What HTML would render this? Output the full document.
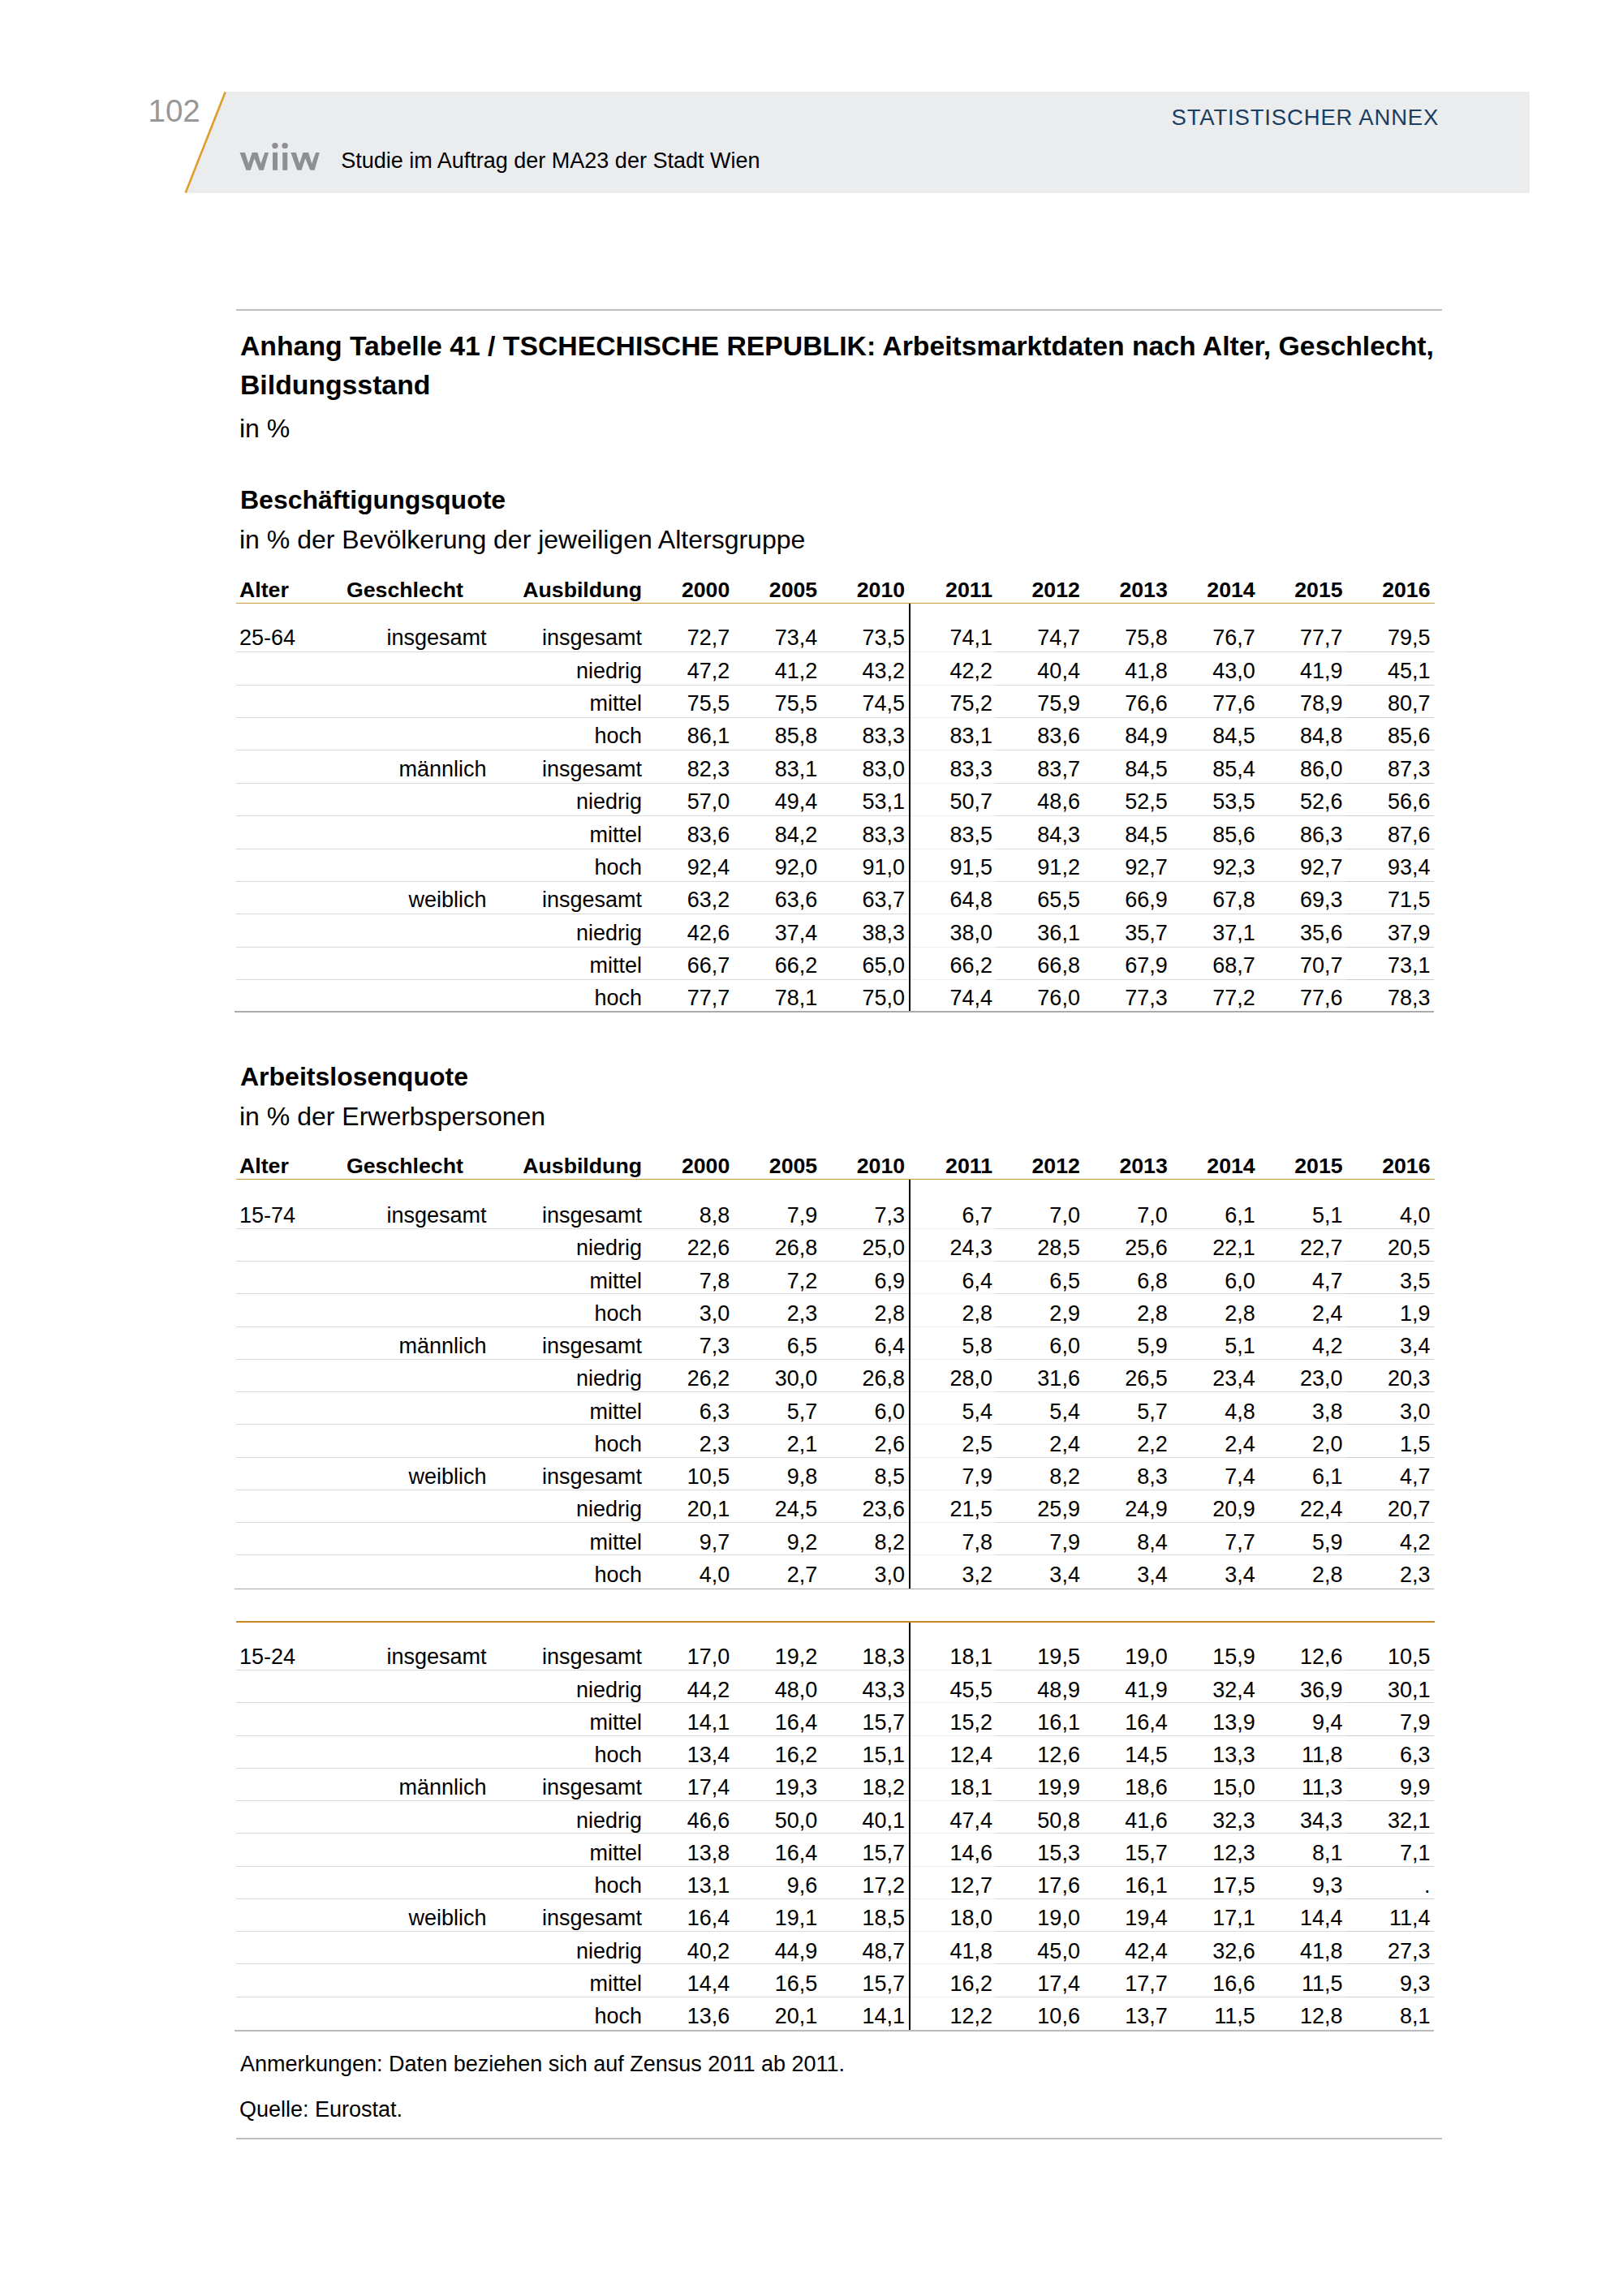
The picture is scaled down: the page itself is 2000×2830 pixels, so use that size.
<!DOCTYPE html>
<html><head><meta charset="utf-8"><title>Anhang Tabelle 41</title>
<style>
html,body{margin:0;padding:0;background:#fff;}
body{width:2000px;height:2830px;position:relative;overflow:hidden;font-family:"Liberation Sans",sans-serif;}
.t{position:absolute;white-space:nowrap;line-height:1;}
.r{position:absolute;}
.s{position:absolute;}
</style></head><body>
<div class="r" style="left:399.00px;top:113.00px;width:1486.00px;height:125.00px;background:#ebecee;"></div>
<svg class="s" style="left:0;top:0" width="400" height="300" viewBox="0 0 400 300">
<polygon points="278.5,113 400,113 400,238 229.5,238" fill="#ebecee"/>
<line x1="277.6" y1="113.5" x2="228.7" y2="237.5" stroke="#df9d2a" stroke-width="2.6"/>
<g fill="#8e8f91">
<polygon points="295.5,187.9 302,187.9 306.2,201.7 310.7,187.9 317.3,187.9 321.4,201.7 326.3,187.9 331,187.9 324.8,209.8 319.4,209.8 313.4,195.2 308.8,209.8 303.4,209.8"/>
<polygon transform="translate(62.8,0)" points="295.5,187.9 302,187.9 306.2,201.7 310.7,187.9 317.3,187.9 321.4,201.7 326.3,187.9 331,187.9 324.8,209.8 319.4,209.8 313.4,195.2 308.8,209.8 303.4,209.8"/>
<rect x="336" y="187.9" width="6" height="21.9"/>
<rect x="348.2" y="187.9" width="6" height="21.9"/>
<circle cx="338.9" cy="179.6" r="3.7"/>
<circle cx="351.1" cy="179.6" r="3.7"/>
</g>
</svg>
<div class="t" style="left:182.50px;top:117.61px;font-size:38.5px;font-weight:normal;color:#979797;">102</div>
<div class="t" style="left:1443.50px;top:130.62px;font-size:27.5px;font-weight:normal;color:#1a3d60;letter-spacing:0.84px;">STATISTISCHER ANNEX</div>
<div class="t" style="left:420.20px;top:184.64px;font-size:27px;font-weight:normal;color:#000;">Studie im Auftrag der MA23 der Stadt Wien</div>
<div class="r" style="left:290.50px;top:381.00px;width:1486.50px;height:2.00px;background:#bdbdbd;"></div>
<div class="t" style="left:296.00px;top:409.93px;font-size:33.75px;font-weight:bold;color:#000;">Anhang Tabelle 41 / TSCHECHISCHE REPUBLIK: Arbeitsmarktdaten nach Alter, Geschlecht,</div>
<div class="t" style="left:296.00px;top:458.23px;font-size:33.75px;font-weight:bold;color:#000;">Bildungsstand</div>
<div class="t" style="left:295.00px;top:512.01px;font-size:32px;font-weight:normal;color:#000;">in %</div>
<div class="t" style="left:296.00px;top:600.21px;font-size:32px;font-weight:bold;color:#000;">Beschäftigungsquote</div>
<div class="t" style="left:295.00px;top:649.11px;font-size:32px;font-weight:normal;color:#000;">in % der Bevölkerung der jeweiligen Altersgruppe</div>
<div class="t" style="left:295.00px;top:714.10px;font-size:26.7px;font-weight:bold;color:#000;">Alter</div>
<div class="t" style="left:427.00px;top:714.10px;font-size:26.7px;font-weight:bold;color:#000;">Geschlecht</div>
<div class="t" style="right:1209.00px;top:714.10px;font-size:26.7px;font-weight:bold;color:#000;text-align:right;">Ausbildung</div>
<div class="t" style="right:1100.70px;top:714.10px;font-size:26.7px;font-weight:bold;color:#000;text-align:right;">2000</div>
<div class="t" style="right:992.80px;top:714.10px;font-size:26.7px;font-weight:bold;color:#000;text-align:right;">2005</div>
<div class="t" style="right:884.90px;top:714.10px;font-size:26.7px;font-weight:bold;color:#000;text-align:right;">2010</div>
<div class="t" style="right:777.00px;top:714.10px;font-size:26.7px;font-weight:bold;color:#000;text-align:right;">2011</div>
<div class="t" style="right:669.10px;top:714.10px;font-size:26.7px;font-weight:bold;color:#000;text-align:right;">2012</div>
<div class="t" style="right:561.20px;top:714.10px;font-size:26.7px;font-weight:bold;color:#000;text-align:right;">2013</div>
<div class="t" style="right:453.30px;top:714.10px;font-size:26.7px;font-weight:bold;color:#000;text-align:right;">2014</div>
<div class="t" style="right:345.40px;top:714.10px;font-size:26.7px;font-weight:bold;color:#000;text-align:right;">2015</div>
<div class="t" style="right:237.50px;top:714.10px;font-size:26.7px;font-weight:bold;color:#000;text-align:right;">2016</div>
<div class="r" style="left:290.50px;top:743.00px;width:1477.00px;height:1.00px;background:#cf9a3e;"></div>
<div class="t" style="left:295.00px;top:773.24px;font-size:27px;font-weight:normal;color:#000;">25-64</div>
<div class="t" style="right:1400.50px;top:773.24px;font-size:27px;font-weight:normal;color:#000;text-align:right;">insgesamt</div>
<div class="t" style="right:1209.00px;top:773.24px;font-size:27px;font-weight:normal;color:#000;text-align:right;">insgesamt</div>
<div class="t" style="right:1100.70px;top:773.24px;font-size:27px;font-weight:normal;color:#000;text-align:right;">72,7</div>
<div class="t" style="right:992.80px;top:773.24px;font-size:27px;font-weight:normal;color:#000;text-align:right;">73,4</div>
<div class="t" style="right:884.90px;top:773.24px;font-size:27px;font-weight:normal;color:#000;text-align:right;">73,5</div>
<div class="t" style="right:777.00px;top:773.24px;font-size:27px;font-weight:normal;color:#000;text-align:right;">74,1</div>
<div class="t" style="right:669.10px;top:773.24px;font-size:27px;font-weight:normal;color:#000;text-align:right;">74,7</div>
<div class="t" style="right:561.20px;top:773.24px;font-size:27px;font-weight:normal;color:#000;text-align:right;">75,8</div>
<div class="t" style="right:453.30px;top:773.24px;font-size:27px;font-weight:normal;color:#000;text-align:right;">76,7</div>
<div class="t" style="right:345.40px;top:773.24px;font-size:27px;font-weight:normal;color:#000;text-align:right;">77,7</div>
<div class="t" style="right:237.50px;top:773.24px;font-size:27px;font-weight:normal;color:#000;text-align:right;">79,5</div>
<div class="r" style="left:291.00px;top:803.30px;width:828.00px;height:1.00px;background:#d8d8d8;"></div>
<div class="r" style="left:1121.60px;top:803.30px;width:105.40px;height:1.00px;background:#efefef;"></div>
<div class="r" style="left:1227.00px;top:803.30px;width:433.00px;height:1.00px;background:#d8d8d8;"></div>
<div class="r" style="left:1660.00px;top:803.30px;width:107.00px;height:1.00px;background:#cdcdcd;"></div>
<div class="t" style="right:1209.00px;top:813.62px;font-size:27px;font-weight:normal;color:#000;text-align:right;">niedrig</div>
<div class="t" style="right:1100.70px;top:813.62px;font-size:27px;font-weight:normal;color:#000;text-align:right;">47,2</div>
<div class="t" style="right:992.80px;top:813.62px;font-size:27px;font-weight:normal;color:#000;text-align:right;">41,2</div>
<div class="t" style="right:884.90px;top:813.62px;font-size:27px;font-weight:normal;color:#000;text-align:right;">43,2</div>
<div class="t" style="right:777.00px;top:813.62px;font-size:27px;font-weight:normal;color:#000;text-align:right;">42,2</div>
<div class="t" style="right:669.10px;top:813.62px;font-size:27px;font-weight:normal;color:#000;text-align:right;">40,4</div>
<div class="t" style="right:561.20px;top:813.62px;font-size:27px;font-weight:normal;color:#000;text-align:right;">41,8</div>
<div class="t" style="right:453.30px;top:813.62px;font-size:27px;font-weight:normal;color:#000;text-align:right;">43,0</div>
<div class="t" style="right:345.40px;top:813.62px;font-size:27px;font-weight:normal;color:#000;text-align:right;">41,9</div>
<div class="t" style="right:237.50px;top:813.62px;font-size:27px;font-weight:normal;color:#000;text-align:right;">45,1</div>
<div class="r" style="left:291.00px;top:843.68px;width:828.00px;height:1.00px;background:#d8d8d8;"></div>
<div class="r" style="left:1121.60px;top:843.68px;width:105.40px;height:1.00px;background:#efefef;"></div>
<div class="r" style="left:1227.00px;top:843.68px;width:433.00px;height:1.00px;background:#d8d8d8;"></div>
<div class="r" style="left:1660.00px;top:843.68px;width:107.00px;height:1.00px;background:#cdcdcd;"></div>
<div class="t" style="right:1209.00px;top:854.00px;font-size:27px;font-weight:normal;color:#000;text-align:right;">mittel</div>
<div class="t" style="right:1100.70px;top:854.00px;font-size:27px;font-weight:normal;color:#000;text-align:right;">75,5</div>
<div class="t" style="right:992.80px;top:854.00px;font-size:27px;font-weight:normal;color:#000;text-align:right;">75,5</div>
<div class="t" style="right:884.90px;top:854.00px;font-size:27px;font-weight:normal;color:#000;text-align:right;">74,5</div>
<div class="t" style="right:777.00px;top:854.00px;font-size:27px;font-weight:normal;color:#000;text-align:right;">75,2</div>
<div class="t" style="right:669.10px;top:854.00px;font-size:27px;font-weight:normal;color:#000;text-align:right;">75,9</div>
<div class="t" style="right:561.20px;top:854.00px;font-size:27px;font-weight:normal;color:#000;text-align:right;">76,6</div>
<div class="t" style="right:453.30px;top:854.00px;font-size:27px;font-weight:normal;color:#000;text-align:right;">77,6</div>
<div class="t" style="right:345.40px;top:854.00px;font-size:27px;font-weight:normal;color:#000;text-align:right;">78,9</div>
<div class="t" style="right:237.50px;top:854.00px;font-size:27px;font-weight:normal;color:#000;text-align:right;">80,7</div>
<div class="r" style="left:291.00px;top:884.06px;width:828.00px;height:1.00px;background:#d8d8d8;"></div>
<div class="r" style="left:1121.60px;top:884.06px;width:105.40px;height:1.00px;background:#efefef;"></div>
<div class="r" style="left:1227.00px;top:884.06px;width:433.00px;height:1.00px;background:#d8d8d8;"></div>
<div class="r" style="left:1660.00px;top:884.06px;width:107.00px;height:1.00px;background:#cdcdcd;"></div>
<div class="t" style="right:1209.00px;top:894.38px;font-size:27px;font-weight:normal;color:#000;text-align:right;">hoch</div>
<div class="t" style="right:1100.70px;top:894.38px;font-size:27px;font-weight:normal;color:#000;text-align:right;">86,1</div>
<div class="t" style="right:992.80px;top:894.38px;font-size:27px;font-weight:normal;color:#000;text-align:right;">85,8</div>
<div class="t" style="right:884.90px;top:894.38px;font-size:27px;font-weight:normal;color:#000;text-align:right;">83,3</div>
<div class="t" style="right:777.00px;top:894.38px;font-size:27px;font-weight:normal;color:#000;text-align:right;">83,1</div>
<div class="t" style="right:669.10px;top:894.38px;font-size:27px;font-weight:normal;color:#000;text-align:right;">83,6</div>
<div class="t" style="right:561.20px;top:894.38px;font-size:27px;font-weight:normal;color:#000;text-align:right;">84,9</div>
<div class="t" style="right:453.30px;top:894.38px;font-size:27px;font-weight:normal;color:#000;text-align:right;">84,5</div>
<div class="t" style="right:345.40px;top:894.38px;font-size:27px;font-weight:normal;color:#000;text-align:right;">84,8</div>
<div class="t" style="right:237.50px;top:894.38px;font-size:27px;font-weight:normal;color:#000;text-align:right;">85,6</div>
<div class="r" style="left:291.00px;top:924.44px;width:828.00px;height:1.00px;background:#d8d8d8;"></div>
<div class="r" style="left:1121.60px;top:924.44px;width:105.40px;height:1.00px;background:#efefef;"></div>
<div class="r" style="left:1227.00px;top:924.44px;width:433.00px;height:1.00px;background:#d8d8d8;"></div>
<div class="r" style="left:1660.00px;top:924.44px;width:107.00px;height:1.00px;background:#cdcdcd;"></div>
<div class="t" style="right:1400.50px;top:934.76px;font-size:27px;font-weight:normal;color:#000;text-align:right;">männlich</div>
<div class="t" style="right:1209.00px;top:934.76px;font-size:27px;font-weight:normal;color:#000;text-align:right;">insgesamt</div>
<div class="t" style="right:1100.70px;top:934.76px;font-size:27px;font-weight:normal;color:#000;text-align:right;">82,3</div>
<div class="t" style="right:992.80px;top:934.76px;font-size:27px;font-weight:normal;color:#000;text-align:right;">83,1</div>
<div class="t" style="right:884.90px;top:934.76px;font-size:27px;font-weight:normal;color:#000;text-align:right;">83,0</div>
<div class="t" style="right:777.00px;top:934.76px;font-size:27px;font-weight:normal;color:#000;text-align:right;">83,3</div>
<div class="t" style="right:669.10px;top:934.76px;font-size:27px;font-weight:normal;color:#000;text-align:right;">83,7</div>
<div class="t" style="right:561.20px;top:934.76px;font-size:27px;font-weight:normal;color:#000;text-align:right;">84,5</div>
<div class="t" style="right:453.30px;top:934.76px;font-size:27px;font-weight:normal;color:#000;text-align:right;">85,4</div>
<div class="t" style="right:345.40px;top:934.76px;font-size:27px;font-weight:normal;color:#000;text-align:right;">86,0</div>
<div class="t" style="right:237.50px;top:934.76px;font-size:27px;font-weight:normal;color:#000;text-align:right;">87,3</div>
<div class="r" style="left:291.00px;top:964.82px;width:828.00px;height:1.00px;background:#d8d8d8;"></div>
<div class="r" style="left:1121.60px;top:964.82px;width:105.40px;height:1.00px;background:#efefef;"></div>
<div class="r" style="left:1227.00px;top:964.82px;width:433.00px;height:1.00px;background:#d8d8d8;"></div>
<div class="r" style="left:1660.00px;top:964.82px;width:107.00px;height:1.00px;background:#cdcdcd;"></div>
<div class="t" style="right:1209.00px;top:975.14px;font-size:27px;font-weight:normal;color:#000;text-align:right;">niedrig</div>
<div class="t" style="right:1100.70px;top:975.14px;font-size:27px;font-weight:normal;color:#000;text-align:right;">57,0</div>
<div class="t" style="right:992.80px;top:975.14px;font-size:27px;font-weight:normal;color:#000;text-align:right;">49,4</div>
<div class="t" style="right:884.90px;top:975.14px;font-size:27px;font-weight:normal;color:#000;text-align:right;">53,1</div>
<div class="t" style="right:777.00px;top:975.14px;font-size:27px;font-weight:normal;color:#000;text-align:right;">50,7</div>
<div class="t" style="right:669.10px;top:975.14px;font-size:27px;font-weight:normal;color:#000;text-align:right;">48,6</div>
<div class="t" style="right:561.20px;top:975.14px;font-size:27px;font-weight:normal;color:#000;text-align:right;">52,5</div>
<div class="t" style="right:453.30px;top:975.14px;font-size:27px;font-weight:normal;color:#000;text-align:right;">53,5</div>
<div class="t" style="right:345.40px;top:975.14px;font-size:27px;font-weight:normal;color:#000;text-align:right;">52,6</div>
<div class="t" style="right:237.50px;top:975.14px;font-size:27px;font-weight:normal;color:#000;text-align:right;">56,6</div>
<div class="r" style="left:291.00px;top:1005.20px;width:828.00px;height:1.00px;background:#d8d8d8;"></div>
<div class="r" style="left:1121.60px;top:1005.20px;width:105.40px;height:1.00px;background:#efefef;"></div>
<div class="r" style="left:1227.00px;top:1005.20px;width:433.00px;height:1.00px;background:#d8d8d8;"></div>
<div class="r" style="left:1660.00px;top:1005.20px;width:107.00px;height:1.00px;background:#cdcdcd;"></div>
<div class="t" style="right:1209.00px;top:1015.52px;font-size:27px;font-weight:normal;color:#000;text-align:right;">mittel</div>
<div class="t" style="right:1100.70px;top:1015.52px;font-size:27px;font-weight:normal;color:#000;text-align:right;">83,6</div>
<div class="t" style="right:992.80px;top:1015.52px;font-size:27px;font-weight:normal;color:#000;text-align:right;">84,2</div>
<div class="t" style="right:884.90px;top:1015.52px;font-size:27px;font-weight:normal;color:#000;text-align:right;">83,3</div>
<div class="t" style="right:777.00px;top:1015.52px;font-size:27px;font-weight:normal;color:#000;text-align:right;">83,5</div>
<div class="t" style="right:669.10px;top:1015.52px;font-size:27px;font-weight:normal;color:#000;text-align:right;">84,3</div>
<div class="t" style="right:561.20px;top:1015.52px;font-size:27px;font-weight:normal;color:#000;text-align:right;">84,5</div>
<div class="t" style="right:453.30px;top:1015.52px;font-size:27px;font-weight:normal;color:#000;text-align:right;">85,6</div>
<div class="t" style="right:345.40px;top:1015.52px;font-size:27px;font-weight:normal;color:#000;text-align:right;">86,3</div>
<div class="t" style="right:237.50px;top:1015.52px;font-size:27px;font-weight:normal;color:#000;text-align:right;">87,6</div>
<div class="r" style="left:291.00px;top:1045.58px;width:828.00px;height:1.00px;background:#d8d8d8;"></div>
<div class="r" style="left:1121.60px;top:1045.58px;width:105.40px;height:1.00px;background:#efefef;"></div>
<div class="r" style="left:1227.00px;top:1045.58px;width:433.00px;height:1.00px;background:#d8d8d8;"></div>
<div class="r" style="left:1660.00px;top:1045.58px;width:107.00px;height:1.00px;background:#cdcdcd;"></div>
<div class="t" style="right:1209.00px;top:1055.90px;font-size:27px;font-weight:normal;color:#000;text-align:right;">hoch</div>
<div class="t" style="right:1100.70px;top:1055.90px;font-size:27px;font-weight:normal;color:#000;text-align:right;">92,4</div>
<div class="t" style="right:992.80px;top:1055.90px;font-size:27px;font-weight:normal;color:#000;text-align:right;">92,0</div>
<div class="t" style="right:884.90px;top:1055.90px;font-size:27px;font-weight:normal;color:#000;text-align:right;">91,0</div>
<div class="t" style="right:777.00px;top:1055.90px;font-size:27px;font-weight:normal;color:#000;text-align:right;">91,5</div>
<div class="t" style="right:669.10px;top:1055.90px;font-size:27px;font-weight:normal;color:#000;text-align:right;">91,2</div>
<div class="t" style="right:561.20px;top:1055.90px;font-size:27px;font-weight:normal;color:#000;text-align:right;">92,7</div>
<div class="t" style="right:453.30px;top:1055.90px;font-size:27px;font-weight:normal;color:#000;text-align:right;">92,3</div>
<div class="t" style="right:345.40px;top:1055.90px;font-size:27px;font-weight:normal;color:#000;text-align:right;">92,7</div>
<div class="t" style="right:237.50px;top:1055.90px;font-size:27px;font-weight:normal;color:#000;text-align:right;">93,4</div>
<div class="r" style="left:291.00px;top:1085.96px;width:828.00px;height:1.00px;background:#d8d8d8;"></div>
<div class="r" style="left:1121.60px;top:1085.96px;width:105.40px;height:1.00px;background:#efefef;"></div>
<div class="r" style="left:1227.00px;top:1085.96px;width:433.00px;height:1.00px;background:#d8d8d8;"></div>
<div class="r" style="left:1660.00px;top:1085.96px;width:107.00px;height:1.00px;background:#cdcdcd;"></div>
<div class="t" style="right:1400.50px;top:1096.28px;font-size:27px;font-weight:normal;color:#000;text-align:right;">weiblich</div>
<div class="t" style="right:1209.00px;top:1096.28px;font-size:27px;font-weight:normal;color:#000;text-align:right;">insgesamt</div>
<div class="t" style="right:1100.70px;top:1096.28px;font-size:27px;font-weight:normal;color:#000;text-align:right;">63,2</div>
<div class="t" style="right:992.80px;top:1096.28px;font-size:27px;font-weight:normal;color:#000;text-align:right;">63,6</div>
<div class="t" style="right:884.90px;top:1096.28px;font-size:27px;font-weight:normal;color:#000;text-align:right;">63,7</div>
<div class="t" style="right:777.00px;top:1096.28px;font-size:27px;font-weight:normal;color:#000;text-align:right;">64,8</div>
<div class="t" style="right:669.10px;top:1096.28px;font-size:27px;font-weight:normal;color:#000;text-align:right;">65,5</div>
<div class="t" style="right:561.20px;top:1096.28px;font-size:27px;font-weight:normal;color:#000;text-align:right;">66,9</div>
<div class="t" style="right:453.30px;top:1096.28px;font-size:27px;font-weight:normal;color:#000;text-align:right;">67,8</div>
<div class="t" style="right:345.40px;top:1096.28px;font-size:27px;font-weight:normal;color:#000;text-align:right;">69,3</div>
<div class="t" style="right:237.50px;top:1096.28px;font-size:27px;font-weight:normal;color:#000;text-align:right;">71,5</div>
<div class="r" style="left:291.00px;top:1126.34px;width:828.00px;height:1.00px;background:#d8d8d8;"></div>
<div class="r" style="left:1121.60px;top:1126.34px;width:105.40px;height:1.00px;background:#efefef;"></div>
<div class="r" style="left:1227.00px;top:1126.34px;width:433.00px;height:1.00px;background:#d8d8d8;"></div>
<div class="r" style="left:1660.00px;top:1126.34px;width:107.00px;height:1.00px;background:#cdcdcd;"></div>
<div class="t" style="right:1209.00px;top:1136.66px;font-size:27px;font-weight:normal;color:#000;text-align:right;">niedrig</div>
<div class="t" style="right:1100.70px;top:1136.66px;font-size:27px;font-weight:normal;color:#000;text-align:right;">42,6</div>
<div class="t" style="right:992.80px;top:1136.66px;font-size:27px;font-weight:normal;color:#000;text-align:right;">37,4</div>
<div class="t" style="right:884.90px;top:1136.66px;font-size:27px;font-weight:normal;color:#000;text-align:right;">38,3</div>
<div class="t" style="right:777.00px;top:1136.66px;font-size:27px;font-weight:normal;color:#000;text-align:right;">38,0</div>
<div class="t" style="right:669.10px;top:1136.66px;font-size:27px;font-weight:normal;color:#000;text-align:right;">36,1</div>
<div class="t" style="right:561.20px;top:1136.66px;font-size:27px;font-weight:normal;color:#000;text-align:right;">35,7</div>
<div class="t" style="right:453.30px;top:1136.66px;font-size:27px;font-weight:normal;color:#000;text-align:right;">37,1</div>
<div class="t" style="right:345.40px;top:1136.66px;font-size:27px;font-weight:normal;color:#000;text-align:right;">35,6</div>
<div class="t" style="right:237.50px;top:1136.66px;font-size:27px;font-weight:normal;color:#000;text-align:right;">37,9</div>
<div class="r" style="left:291.00px;top:1166.72px;width:828.00px;height:1.00px;background:#d8d8d8;"></div>
<div class="r" style="left:1121.60px;top:1166.72px;width:105.40px;height:1.00px;background:#efefef;"></div>
<div class="r" style="left:1227.00px;top:1166.72px;width:433.00px;height:1.00px;background:#d8d8d8;"></div>
<div class="r" style="left:1660.00px;top:1166.72px;width:107.00px;height:1.00px;background:#cdcdcd;"></div>
<div class="t" style="right:1209.00px;top:1177.04px;font-size:27px;font-weight:normal;color:#000;text-align:right;">mittel</div>
<div class="t" style="right:1100.70px;top:1177.04px;font-size:27px;font-weight:normal;color:#000;text-align:right;">66,7</div>
<div class="t" style="right:992.80px;top:1177.04px;font-size:27px;font-weight:normal;color:#000;text-align:right;">66,2</div>
<div class="t" style="right:884.90px;top:1177.04px;font-size:27px;font-weight:normal;color:#000;text-align:right;">65,0</div>
<div class="t" style="right:777.00px;top:1177.04px;font-size:27px;font-weight:normal;color:#000;text-align:right;">66,2</div>
<div class="t" style="right:669.10px;top:1177.04px;font-size:27px;font-weight:normal;color:#000;text-align:right;">66,8</div>
<div class="t" style="right:561.20px;top:1177.04px;font-size:27px;font-weight:normal;color:#000;text-align:right;">67,9</div>
<div class="t" style="right:453.30px;top:1177.04px;font-size:27px;font-weight:normal;color:#000;text-align:right;">68,7</div>
<div class="t" style="right:345.40px;top:1177.04px;font-size:27px;font-weight:normal;color:#000;text-align:right;">70,7</div>
<div class="t" style="right:237.50px;top:1177.04px;font-size:27px;font-weight:normal;color:#000;text-align:right;">73,1</div>
<div class="r" style="left:291.00px;top:1207.10px;width:828.00px;height:1.00px;background:#d8d8d8;"></div>
<div class="r" style="left:1121.60px;top:1207.10px;width:105.40px;height:1.00px;background:#efefef;"></div>
<div class="r" style="left:1227.00px;top:1207.10px;width:433.00px;height:1.00px;background:#d8d8d8;"></div>
<div class="r" style="left:1660.00px;top:1207.10px;width:107.00px;height:1.00px;background:#cdcdcd;"></div>
<div class="t" style="right:1209.00px;top:1217.42px;font-size:27px;font-weight:normal;color:#000;text-align:right;">hoch</div>
<div class="t" style="right:1100.70px;top:1217.42px;font-size:27px;font-weight:normal;color:#000;text-align:right;">77,7</div>
<div class="t" style="right:992.80px;top:1217.42px;font-size:27px;font-weight:normal;color:#000;text-align:right;">78,1</div>
<div class="t" style="right:884.90px;top:1217.42px;font-size:27px;font-weight:normal;color:#000;text-align:right;">75,0</div>
<div class="t" style="right:777.00px;top:1217.42px;font-size:27px;font-weight:normal;color:#000;text-align:right;">74,4</div>
<div class="t" style="right:669.10px;top:1217.42px;font-size:27px;font-weight:normal;color:#000;text-align:right;">76,0</div>
<div class="t" style="right:561.20px;top:1217.42px;font-size:27px;font-weight:normal;color:#000;text-align:right;">77,3</div>
<div class="t" style="right:453.30px;top:1217.42px;font-size:27px;font-weight:normal;color:#000;text-align:right;">77,2</div>
<div class="t" style="right:345.40px;top:1217.42px;font-size:27px;font-weight:normal;color:#000;text-align:right;">77,6</div>
<div class="t" style="right:237.50px;top:1217.42px;font-size:27px;font-weight:normal;color:#000;text-align:right;">78,3</div>
<div class="r" style="left:289.00px;top:1246.20px;width:1478.00px;height:2.20px;background:#ababab;"></div>
<div class="r" style="left:1119.50px;top:744.00px;width:2.00px;height:502.20px;background:#000;"></div>
<div class="t" style="left:296.00px;top:1311.21px;font-size:32px;font-weight:bold;color:#000;">Arbeitslosenquote</div>
<div class="t" style="left:295.00px;top:1359.91px;font-size:32px;font-weight:normal;color:#000;">in % der Erwerbspersonen</div>
<div class="t" style="left:295.00px;top:1424.40px;font-size:26.7px;font-weight:bold;color:#000;">Alter</div>
<div class="t" style="left:427.00px;top:1424.40px;font-size:26.7px;font-weight:bold;color:#000;">Geschlecht</div>
<div class="t" style="right:1209.00px;top:1424.40px;font-size:26.7px;font-weight:bold;color:#000;text-align:right;">Ausbildung</div>
<div class="t" style="right:1100.70px;top:1424.40px;font-size:26.7px;font-weight:bold;color:#000;text-align:right;">2000</div>
<div class="t" style="right:992.80px;top:1424.40px;font-size:26.7px;font-weight:bold;color:#000;text-align:right;">2005</div>
<div class="t" style="right:884.90px;top:1424.40px;font-size:26.7px;font-weight:bold;color:#000;text-align:right;">2010</div>
<div class="t" style="right:777.00px;top:1424.40px;font-size:26.7px;font-weight:bold;color:#000;text-align:right;">2011</div>
<div class="t" style="right:669.10px;top:1424.40px;font-size:26.7px;font-weight:bold;color:#000;text-align:right;">2012</div>
<div class="t" style="right:561.20px;top:1424.40px;font-size:26.7px;font-weight:bold;color:#000;text-align:right;">2013</div>
<div class="t" style="right:453.30px;top:1424.40px;font-size:26.7px;font-weight:bold;color:#000;text-align:right;">2014</div>
<div class="t" style="right:345.40px;top:1424.40px;font-size:26.7px;font-weight:bold;color:#000;text-align:right;">2015</div>
<div class="t" style="right:237.50px;top:1424.40px;font-size:26.7px;font-weight:bold;color:#000;text-align:right;">2016</div>
<div class="r" style="left:290.50px;top:1453.00px;width:1477.00px;height:1.00px;background:#cf9a3e;"></div>
<div class="t" style="left:295.00px;top:1485.24px;font-size:27px;font-weight:normal;color:#000;">15-74</div>
<div class="t" style="right:1400.50px;top:1485.24px;font-size:27px;font-weight:normal;color:#000;text-align:right;">insgesamt</div>
<div class="t" style="right:1209.00px;top:1485.24px;font-size:27px;font-weight:normal;color:#000;text-align:right;">insgesamt</div>
<div class="t" style="right:1100.70px;top:1485.24px;font-size:27px;font-weight:normal;color:#000;text-align:right;">8,8</div>
<div class="t" style="right:992.80px;top:1485.24px;font-size:27px;font-weight:normal;color:#000;text-align:right;">7,9</div>
<div class="t" style="right:884.90px;top:1485.24px;font-size:27px;font-weight:normal;color:#000;text-align:right;">7,3</div>
<div class="t" style="right:777.00px;top:1485.24px;font-size:27px;font-weight:normal;color:#000;text-align:right;">6,7</div>
<div class="t" style="right:669.10px;top:1485.24px;font-size:27px;font-weight:normal;color:#000;text-align:right;">7,0</div>
<div class="t" style="right:561.20px;top:1485.24px;font-size:27px;font-weight:normal;color:#000;text-align:right;">7,0</div>
<div class="t" style="right:453.30px;top:1485.24px;font-size:27px;font-weight:normal;color:#000;text-align:right;">6,1</div>
<div class="t" style="right:345.40px;top:1485.24px;font-size:27px;font-weight:normal;color:#000;text-align:right;">5,1</div>
<div class="t" style="right:237.50px;top:1485.24px;font-size:27px;font-weight:normal;color:#000;text-align:right;">4,0</div>
<div class="r" style="left:291.00px;top:1513.90px;width:828.00px;height:1.00px;background:#d8d8d8;"></div>
<div class="r" style="left:1121.60px;top:1513.90px;width:105.40px;height:1.00px;background:#efefef;"></div>
<div class="r" style="left:1227.00px;top:1513.90px;width:433.00px;height:1.00px;background:#d8d8d8;"></div>
<div class="r" style="left:1660.00px;top:1513.90px;width:107.00px;height:1.00px;background:#cdcdcd;"></div>
<div class="t" style="right:1209.00px;top:1525.49px;font-size:27px;font-weight:normal;color:#000;text-align:right;">niedrig</div>
<div class="t" style="right:1100.70px;top:1525.49px;font-size:27px;font-weight:normal;color:#000;text-align:right;">22,6</div>
<div class="t" style="right:992.80px;top:1525.49px;font-size:27px;font-weight:normal;color:#000;text-align:right;">26,8</div>
<div class="t" style="right:884.90px;top:1525.49px;font-size:27px;font-weight:normal;color:#000;text-align:right;">25,0</div>
<div class="t" style="right:777.00px;top:1525.49px;font-size:27px;font-weight:normal;color:#000;text-align:right;">24,3</div>
<div class="t" style="right:669.10px;top:1525.49px;font-size:27px;font-weight:normal;color:#000;text-align:right;">28,5</div>
<div class="t" style="right:561.20px;top:1525.49px;font-size:27px;font-weight:normal;color:#000;text-align:right;">25,6</div>
<div class="t" style="right:453.30px;top:1525.49px;font-size:27px;font-weight:normal;color:#000;text-align:right;">22,1</div>
<div class="t" style="right:345.40px;top:1525.49px;font-size:27px;font-weight:normal;color:#000;text-align:right;">22,7</div>
<div class="t" style="right:237.50px;top:1525.49px;font-size:27px;font-weight:normal;color:#000;text-align:right;">20,5</div>
<div class="r" style="left:291.00px;top:1554.15px;width:828.00px;height:1.00px;background:#d8d8d8;"></div>
<div class="r" style="left:1121.60px;top:1554.15px;width:105.40px;height:1.00px;background:#efefef;"></div>
<div class="r" style="left:1227.00px;top:1554.15px;width:433.00px;height:1.00px;background:#d8d8d8;"></div>
<div class="r" style="left:1660.00px;top:1554.15px;width:107.00px;height:1.00px;background:#cdcdcd;"></div>
<div class="t" style="right:1209.00px;top:1565.74px;font-size:27px;font-weight:normal;color:#000;text-align:right;">mittel</div>
<div class="t" style="right:1100.70px;top:1565.74px;font-size:27px;font-weight:normal;color:#000;text-align:right;">7,8</div>
<div class="t" style="right:992.80px;top:1565.74px;font-size:27px;font-weight:normal;color:#000;text-align:right;">7,2</div>
<div class="t" style="right:884.90px;top:1565.74px;font-size:27px;font-weight:normal;color:#000;text-align:right;">6,9</div>
<div class="t" style="right:777.00px;top:1565.74px;font-size:27px;font-weight:normal;color:#000;text-align:right;">6,4</div>
<div class="t" style="right:669.10px;top:1565.74px;font-size:27px;font-weight:normal;color:#000;text-align:right;">6,5</div>
<div class="t" style="right:561.20px;top:1565.74px;font-size:27px;font-weight:normal;color:#000;text-align:right;">6,8</div>
<div class="t" style="right:453.30px;top:1565.74px;font-size:27px;font-weight:normal;color:#000;text-align:right;">6,0</div>
<div class="t" style="right:345.40px;top:1565.74px;font-size:27px;font-weight:normal;color:#000;text-align:right;">4,7</div>
<div class="t" style="right:237.50px;top:1565.74px;font-size:27px;font-weight:normal;color:#000;text-align:right;">3,5</div>
<div class="r" style="left:291.00px;top:1594.40px;width:828.00px;height:1.00px;background:#d8d8d8;"></div>
<div class="r" style="left:1121.60px;top:1594.40px;width:105.40px;height:1.00px;background:#efefef;"></div>
<div class="r" style="left:1227.00px;top:1594.40px;width:433.00px;height:1.00px;background:#d8d8d8;"></div>
<div class="r" style="left:1660.00px;top:1594.40px;width:107.00px;height:1.00px;background:#cdcdcd;"></div>
<div class="t" style="right:1209.00px;top:1605.99px;font-size:27px;font-weight:normal;color:#000;text-align:right;">hoch</div>
<div class="t" style="right:1100.70px;top:1605.99px;font-size:27px;font-weight:normal;color:#000;text-align:right;">3,0</div>
<div class="t" style="right:992.80px;top:1605.99px;font-size:27px;font-weight:normal;color:#000;text-align:right;">2,3</div>
<div class="t" style="right:884.90px;top:1605.99px;font-size:27px;font-weight:normal;color:#000;text-align:right;">2,8</div>
<div class="t" style="right:777.00px;top:1605.99px;font-size:27px;font-weight:normal;color:#000;text-align:right;">2,8</div>
<div class="t" style="right:669.10px;top:1605.99px;font-size:27px;font-weight:normal;color:#000;text-align:right;">2,9</div>
<div class="t" style="right:561.20px;top:1605.99px;font-size:27px;font-weight:normal;color:#000;text-align:right;">2,8</div>
<div class="t" style="right:453.30px;top:1605.99px;font-size:27px;font-weight:normal;color:#000;text-align:right;">2,8</div>
<div class="t" style="right:345.40px;top:1605.99px;font-size:27px;font-weight:normal;color:#000;text-align:right;">2,4</div>
<div class="t" style="right:237.50px;top:1605.99px;font-size:27px;font-weight:normal;color:#000;text-align:right;">1,9</div>
<div class="r" style="left:291.00px;top:1634.65px;width:828.00px;height:1.00px;background:#d8d8d8;"></div>
<div class="r" style="left:1121.60px;top:1634.65px;width:105.40px;height:1.00px;background:#efefef;"></div>
<div class="r" style="left:1227.00px;top:1634.65px;width:433.00px;height:1.00px;background:#d8d8d8;"></div>
<div class="r" style="left:1660.00px;top:1634.65px;width:107.00px;height:1.00px;background:#cdcdcd;"></div>
<div class="t" style="right:1400.50px;top:1646.24px;font-size:27px;font-weight:normal;color:#000;text-align:right;">männlich</div>
<div class="t" style="right:1209.00px;top:1646.24px;font-size:27px;font-weight:normal;color:#000;text-align:right;">insgesamt</div>
<div class="t" style="right:1100.70px;top:1646.24px;font-size:27px;font-weight:normal;color:#000;text-align:right;">7,3</div>
<div class="t" style="right:992.80px;top:1646.24px;font-size:27px;font-weight:normal;color:#000;text-align:right;">6,5</div>
<div class="t" style="right:884.90px;top:1646.24px;font-size:27px;font-weight:normal;color:#000;text-align:right;">6,4</div>
<div class="t" style="right:777.00px;top:1646.24px;font-size:27px;font-weight:normal;color:#000;text-align:right;">5,8</div>
<div class="t" style="right:669.10px;top:1646.24px;font-size:27px;font-weight:normal;color:#000;text-align:right;">6,0</div>
<div class="t" style="right:561.20px;top:1646.24px;font-size:27px;font-weight:normal;color:#000;text-align:right;">5,9</div>
<div class="t" style="right:453.30px;top:1646.24px;font-size:27px;font-weight:normal;color:#000;text-align:right;">5,1</div>
<div class="t" style="right:345.40px;top:1646.24px;font-size:27px;font-weight:normal;color:#000;text-align:right;">4,2</div>
<div class="t" style="right:237.50px;top:1646.24px;font-size:27px;font-weight:normal;color:#000;text-align:right;">3,4</div>
<div class="r" style="left:291.00px;top:1674.90px;width:828.00px;height:1.00px;background:#d8d8d8;"></div>
<div class="r" style="left:1121.60px;top:1674.90px;width:105.40px;height:1.00px;background:#efefef;"></div>
<div class="r" style="left:1227.00px;top:1674.90px;width:433.00px;height:1.00px;background:#d8d8d8;"></div>
<div class="r" style="left:1660.00px;top:1674.90px;width:107.00px;height:1.00px;background:#cdcdcd;"></div>
<div class="t" style="right:1209.00px;top:1686.49px;font-size:27px;font-weight:normal;color:#000;text-align:right;">niedrig</div>
<div class="t" style="right:1100.70px;top:1686.49px;font-size:27px;font-weight:normal;color:#000;text-align:right;">26,2</div>
<div class="t" style="right:992.80px;top:1686.49px;font-size:27px;font-weight:normal;color:#000;text-align:right;">30,0</div>
<div class="t" style="right:884.90px;top:1686.49px;font-size:27px;font-weight:normal;color:#000;text-align:right;">26,8</div>
<div class="t" style="right:777.00px;top:1686.49px;font-size:27px;font-weight:normal;color:#000;text-align:right;">28,0</div>
<div class="t" style="right:669.10px;top:1686.49px;font-size:27px;font-weight:normal;color:#000;text-align:right;">31,6</div>
<div class="t" style="right:561.20px;top:1686.49px;font-size:27px;font-weight:normal;color:#000;text-align:right;">26,5</div>
<div class="t" style="right:453.30px;top:1686.49px;font-size:27px;font-weight:normal;color:#000;text-align:right;">23,4</div>
<div class="t" style="right:345.40px;top:1686.49px;font-size:27px;font-weight:normal;color:#000;text-align:right;">23,0</div>
<div class="t" style="right:237.50px;top:1686.49px;font-size:27px;font-weight:normal;color:#000;text-align:right;">20,3</div>
<div class="r" style="left:291.00px;top:1715.15px;width:828.00px;height:1.00px;background:#d8d8d8;"></div>
<div class="r" style="left:1121.60px;top:1715.15px;width:105.40px;height:1.00px;background:#efefef;"></div>
<div class="r" style="left:1227.00px;top:1715.15px;width:433.00px;height:1.00px;background:#d8d8d8;"></div>
<div class="r" style="left:1660.00px;top:1715.15px;width:107.00px;height:1.00px;background:#cdcdcd;"></div>
<div class="t" style="right:1209.00px;top:1726.74px;font-size:27px;font-weight:normal;color:#000;text-align:right;">mittel</div>
<div class="t" style="right:1100.70px;top:1726.74px;font-size:27px;font-weight:normal;color:#000;text-align:right;">6,3</div>
<div class="t" style="right:992.80px;top:1726.74px;font-size:27px;font-weight:normal;color:#000;text-align:right;">5,7</div>
<div class="t" style="right:884.90px;top:1726.74px;font-size:27px;font-weight:normal;color:#000;text-align:right;">6,0</div>
<div class="t" style="right:777.00px;top:1726.74px;font-size:27px;font-weight:normal;color:#000;text-align:right;">5,4</div>
<div class="t" style="right:669.10px;top:1726.74px;font-size:27px;font-weight:normal;color:#000;text-align:right;">5,4</div>
<div class="t" style="right:561.20px;top:1726.74px;font-size:27px;font-weight:normal;color:#000;text-align:right;">5,7</div>
<div class="t" style="right:453.30px;top:1726.74px;font-size:27px;font-weight:normal;color:#000;text-align:right;">4,8</div>
<div class="t" style="right:345.40px;top:1726.74px;font-size:27px;font-weight:normal;color:#000;text-align:right;">3,8</div>
<div class="t" style="right:237.50px;top:1726.74px;font-size:27px;font-weight:normal;color:#000;text-align:right;">3,0</div>
<div class="r" style="left:291.00px;top:1755.40px;width:828.00px;height:1.00px;background:#d8d8d8;"></div>
<div class="r" style="left:1121.60px;top:1755.40px;width:105.40px;height:1.00px;background:#efefef;"></div>
<div class="r" style="left:1227.00px;top:1755.40px;width:433.00px;height:1.00px;background:#d8d8d8;"></div>
<div class="r" style="left:1660.00px;top:1755.40px;width:107.00px;height:1.00px;background:#cdcdcd;"></div>
<div class="t" style="right:1209.00px;top:1766.99px;font-size:27px;font-weight:normal;color:#000;text-align:right;">hoch</div>
<div class="t" style="right:1100.70px;top:1766.99px;font-size:27px;font-weight:normal;color:#000;text-align:right;">2,3</div>
<div class="t" style="right:992.80px;top:1766.99px;font-size:27px;font-weight:normal;color:#000;text-align:right;">2,1</div>
<div class="t" style="right:884.90px;top:1766.99px;font-size:27px;font-weight:normal;color:#000;text-align:right;">2,6</div>
<div class="t" style="right:777.00px;top:1766.99px;font-size:27px;font-weight:normal;color:#000;text-align:right;">2,5</div>
<div class="t" style="right:669.10px;top:1766.99px;font-size:27px;font-weight:normal;color:#000;text-align:right;">2,4</div>
<div class="t" style="right:561.20px;top:1766.99px;font-size:27px;font-weight:normal;color:#000;text-align:right;">2,2</div>
<div class="t" style="right:453.30px;top:1766.99px;font-size:27px;font-weight:normal;color:#000;text-align:right;">2,4</div>
<div class="t" style="right:345.40px;top:1766.99px;font-size:27px;font-weight:normal;color:#000;text-align:right;">2,0</div>
<div class="t" style="right:237.50px;top:1766.99px;font-size:27px;font-weight:normal;color:#000;text-align:right;">1,5</div>
<div class="r" style="left:291.00px;top:1795.65px;width:828.00px;height:1.00px;background:#d8d8d8;"></div>
<div class="r" style="left:1121.60px;top:1795.65px;width:105.40px;height:1.00px;background:#efefef;"></div>
<div class="r" style="left:1227.00px;top:1795.65px;width:433.00px;height:1.00px;background:#d8d8d8;"></div>
<div class="r" style="left:1660.00px;top:1795.65px;width:107.00px;height:1.00px;background:#cdcdcd;"></div>
<div class="t" style="right:1400.50px;top:1807.24px;font-size:27px;font-weight:normal;color:#000;text-align:right;">weiblich</div>
<div class="t" style="right:1209.00px;top:1807.24px;font-size:27px;font-weight:normal;color:#000;text-align:right;">insgesamt</div>
<div class="t" style="right:1100.70px;top:1807.24px;font-size:27px;font-weight:normal;color:#000;text-align:right;">10,5</div>
<div class="t" style="right:992.80px;top:1807.24px;font-size:27px;font-weight:normal;color:#000;text-align:right;">9,8</div>
<div class="t" style="right:884.90px;top:1807.24px;font-size:27px;font-weight:normal;color:#000;text-align:right;">8,5</div>
<div class="t" style="right:777.00px;top:1807.24px;font-size:27px;font-weight:normal;color:#000;text-align:right;">7,9</div>
<div class="t" style="right:669.10px;top:1807.24px;font-size:27px;font-weight:normal;color:#000;text-align:right;">8,2</div>
<div class="t" style="right:561.20px;top:1807.24px;font-size:27px;font-weight:normal;color:#000;text-align:right;">8,3</div>
<div class="t" style="right:453.30px;top:1807.24px;font-size:27px;font-weight:normal;color:#000;text-align:right;">7,4</div>
<div class="t" style="right:345.40px;top:1807.24px;font-size:27px;font-weight:normal;color:#000;text-align:right;">6,1</div>
<div class="t" style="right:237.50px;top:1807.24px;font-size:27px;font-weight:normal;color:#000;text-align:right;">4,7</div>
<div class="r" style="left:291.00px;top:1835.90px;width:828.00px;height:1.00px;background:#d8d8d8;"></div>
<div class="r" style="left:1121.60px;top:1835.90px;width:105.40px;height:1.00px;background:#efefef;"></div>
<div class="r" style="left:1227.00px;top:1835.90px;width:433.00px;height:1.00px;background:#d8d8d8;"></div>
<div class="r" style="left:1660.00px;top:1835.90px;width:107.00px;height:1.00px;background:#cdcdcd;"></div>
<div class="t" style="right:1209.00px;top:1847.49px;font-size:27px;font-weight:normal;color:#000;text-align:right;">niedrig</div>
<div class="t" style="right:1100.70px;top:1847.49px;font-size:27px;font-weight:normal;color:#000;text-align:right;">20,1</div>
<div class="t" style="right:992.80px;top:1847.49px;font-size:27px;font-weight:normal;color:#000;text-align:right;">24,5</div>
<div class="t" style="right:884.90px;top:1847.49px;font-size:27px;font-weight:normal;color:#000;text-align:right;">23,6</div>
<div class="t" style="right:777.00px;top:1847.49px;font-size:27px;font-weight:normal;color:#000;text-align:right;">21,5</div>
<div class="t" style="right:669.10px;top:1847.49px;font-size:27px;font-weight:normal;color:#000;text-align:right;">25,9</div>
<div class="t" style="right:561.20px;top:1847.49px;font-size:27px;font-weight:normal;color:#000;text-align:right;">24,9</div>
<div class="t" style="right:453.30px;top:1847.49px;font-size:27px;font-weight:normal;color:#000;text-align:right;">20,9</div>
<div class="t" style="right:345.40px;top:1847.49px;font-size:27px;font-weight:normal;color:#000;text-align:right;">22,4</div>
<div class="t" style="right:237.50px;top:1847.49px;font-size:27px;font-weight:normal;color:#000;text-align:right;">20,7</div>
<div class="r" style="left:291.00px;top:1876.15px;width:828.00px;height:1.00px;background:#d8d8d8;"></div>
<div class="r" style="left:1121.60px;top:1876.15px;width:105.40px;height:1.00px;background:#efefef;"></div>
<div class="r" style="left:1227.00px;top:1876.15px;width:433.00px;height:1.00px;background:#d8d8d8;"></div>
<div class="r" style="left:1660.00px;top:1876.15px;width:107.00px;height:1.00px;background:#cdcdcd;"></div>
<div class="t" style="right:1209.00px;top:1887.74px;font-size:27px;font-weight:normal;color:#000;text-align:right;">mittel</div>
<div class="t" style="right:1100.70px;top:1887.74px;font-size:27px;font-weight:normal;color:#000;text-align:right;">9,7</div>
<div class="t" style="right:992.80px;top:1887.74px;font-size:27px;font-weight:normal;color:#000;text-align:right;">9,2</div>
<div class="t" style="right:884.90px;top:1887.74px;font-size:27px;font-weight:normal;color:#000;text-align:right;">8,2</div>
<div class="t" style="right:777.00px;top:1887.74px;font-size:27px;font-weight:normal;color:#000;text-align:right;">7,8</div>
<div class="t" style="right:669.10px;top:1887.74px;font-size:27px;font-weight:normal;color:#000;text-align:right;">7,9</div>
<div class="t" style="right:561.20px;top:1887.74px;font-size:27px;font-weight:normal;color:#000;text-align:right;">8,4</div>
<div class="t" style="right:453.30px;top:1887.74px;font-size:27px;font-weight:normal;color:#000;text-align:right;">7,7</div>
<div class="t" style="right:345.40px;top:1887.74px;font-size:27px;font-weight:normal;color:#000;text-align:right;">5,9</div>
<div class="t" style="right:237.50px;top:1887.74px;font-size:27px;font-weight:normal;color:#000;text-align:right;">4,2</div>
<div class="r" style="left:291.00px;top:1916.40px;width:828.00px;height:1.00px;background:#d8d8d8;"></div>
<div class="r" style="left:1121.60px;top:1916.40px;width:105.40px;height:1.00px;background:#efefef;"></div>
<div class="r" style="left:1227.00px;top:1916.40px;width:433.00px;height:1.00px;background:#d8d8d8;"></div>
<div class="r" style="left:1660.00px;top:1916.40px;width:107.00px;height:1.00px;background:#cdcdcd;"></div>
<div class="t" style="right:1209.00px;top:1927.99px;font-size:27px;font-weight:normal;color:#000;text-align:right;">hoch</div>
<div class="t" style="right:1100.70px;top:1927.99px;font-size:27px;font-weight:normal;color:#000;text-align:right;">4,0</div>
<div class="t" style="right:992.80px;top:1927.99px;font-size:27px;font-weight:normal;color:#000;text-align:right;">2,7</div>
<div class="t" style="right:884.90px;top:1927.99px;font-size:27px;font-weight:normal;color:#000;text-align:right;">3,0</div>
<div class="t" style="right:777.00px;top:1927.99px;font-size:27px;font-weight:normal;color:#000;text-align:right;">3,2</div>
<div class="t" style="right:669.10px;top:1927.99px;font-size:27px;font-weight:normal;color:#000;text-align:right;">3,4</div>
<div class="t" style="right:561.20px;top:1927.99px;font-size:27px;font-weight:normal;color:#000;text-align:right;">3,4</div>
<div class="t" style="right:453.30px;top:1927.99px;font-size:27px;font-weight:normal;color:#000;text-align:right;">3,4</div>
<div class="t" style="right:345.40px;top:1927.99px;font-size:27px;font-weight:normal;color:#000;text-align:right;">2,8</div>
<div class="t" style="right:237.50px;top:1927.99px;font-size:27px;font-weight:normal;color:#000;text-align:right;">2,3</div>
<div class="r" style="left:289.00px;top:1957.60px;width:1478.00px;height:1.60px;background:#a9a9a9;"></div>
<div class="r" style="left:1119.50px;top:1454.00px;width:2.00px;height:503.60px;background:#000;"></div>
<div class="r" style="left:290.50px;top:1997.50px;width:1477.00px;height:2.40px;background:#c9871f;"></div>
<div class="t" style="left:295.00px;top:2029.24px;font-size:27px;font-weight:normal;color:#000;">15-24</div>
<div class="t" style="right:1400.50px;top:2029.24px;font-size:27px;font-weight:normal;color:#000;text-align:right;">insgesamt</div>
<div class="t" style="right:1209.00px;top:2029.24px;font-size:27px;font-weight:normal;color:#000;text-align:right;">insgesamt</div>
<div class="t" style="right:1100.70px;top:2029.24px;font-size:27px;font-weight:normal;color:#000;text-align:right;">17,0</div>
<div class="t" style="right:992.80px;top:2029.24px;font-size:27px;font-weight:normal;color:#000;text-align:right;">19,2</div>
<div class="t" style="right:884.90px;top:2029.24px;font-size:27px;font-weight:normal;color:#000;text-align:right;">18,3</div>
<div class="t" style="right:777.00px;top:2029.24px;font-size:27px;font-weight:normal;color:#000;text-align:right;">18,1</div>
<div class="t" style="right:669.10px;top:2029.24px;font-size:27px;font-weight:normal;color:#000;text-align:right;">19,5</div>
<div class="t" style="right:561.20px;top:2029.24px;font-size:27px;font-weight:normal;color:#000;text-align:right;">19,0</div>
<div class="t" style="right:453.30px;top:2029.24px;font-size:27px;font-weight:normal;color:#000;text-align:right;">15,9</div>
<div class="t" style="right:345.40px;top:2029.24px;font-size:27px;font-weight:normal;color:#000;text-align:right;">12,6</div>
<div class="t" style="right:237.50px;top:2029.24px;font-size:27px;font-weight:normal;color:#000;text-align:right;">10,5</div>
<div class="r" style="left:291.00px;top:2058.00px;width:828.00px;height:1.00px;background:#d8d8d8;"></div>
<div class="r" style="left:1121.60px;top:2058.00px;width:105.40px;height:1.00px;background:#efefef;"></div>
<div class="r" style="left:1227.00px;top:2058.00px;width:433.00px;height:1.00px;background:#d8d8d8;"></div>
<div class="r" style="left:1660.00px;top:2058.00px;width:107.00px;height:1.00px;background:#cdcdcd;"></div>
<div class="t" style="right:1209.00px;top:2069.51px;font-size:27px;font-weight:normal;color:#000;text-align:right;">niedrig</div>
<div class="t" style="right:1100.70px;top:2069.51px;font-size:27px;font-weight:normal;color:#000;text-align:right;">44,2</div>
<div class="t" style="right:992.80px;top:2069.51px;font-size:27px;font-weight:normal;color:#000;text-align:right;">48,0</div>
<div class="t" style="right:884.90px;top:2069.51px;font-size:27px;font-weight:normal;color:#000;text-align:right;">43,3</div>
<div class="t" style="right:777.00px;top:2069.51px;font-size:27px;font-weight:normal;color:#000;text-align:right;">45,5</div>
<div class="t" style="right:669.10px;top:2069.51px;font-size:27px;font-weight:normal;color:#000;text-align:right;">48,9</div>
<div class="t" style="right:561.20px;top:2069.51px;font-size:27px;font-weight:normal;color:#000;text-align:right;">41,9</div>
<div class="t" style="right:453.30px;top:2069.51px;font-size:27px;font-weight:normal;color:#000;text-align:right;">32,4</div>
<div class="t" style="right:345.40px;top:2069.51px;font-size:27px;font-weight:normal;color:#000;text-align:right;">36,9</div>
<div class="t" style="right:237.50px;top:2069.51px;font-size:27px;font-weight:normal;color:#000;text-align:right;">30,1</div>
<div class="r" style="left:291.00px;top:2098.27px;width:828.00px;height:1.00px;background:#d8d8d8;"></div>
<div class="r" style="left:1121.60px;top:2098.27px;width:105.40px;height:1.00px;background:#efefef;"></div>
<div class="r" style="left:1227.00px;top:2098.27px;width:433.00px;height:1.00px;background:#d8d8d8;"></div>
<div class="r" style="left:1660.00px;top:2098.27px;width:107.00px;height:1.00px;background:#cdcdcd;"></div>
<div class="t" style="right:1209.00px;top:2109.78px;font-size:27px;font-weight:normal;color:#000;text-align:right;">mittel</div>
<div class="t" style="right:1100.70px;top:2109.78px;font-size:27px;font-weight:normal;color:#000;text-align:right;">14,1</div>
<div class="t" style="right:992.80px;top:2109.78px;font-size:27px;font-weight:normal;color:#000;text-align:right;">16,4</div>
<div class="t" style="right:884.90px;top:2109.78px;font-size:27px;font-weight:normal;color:#000;text-align:right;">15,7</div>
<div class="t" style="right:777.00px;top:2109.78px;font-size:27px;font-weight:normal;color:#000;text-align:right;">15,2</div>
<div class="t" style="right:669.10px;top:2109.78px;font-size:27px;font-weight:normal;color:#000;text-align:right;">16,1</div>
<div class="t" style="right:561.20px;top:2109.78px;font-size:27px;font-weight:normal;color:#000;text-align:right;">16,4</div>
<div class="t" style="right:453.30px;top:2109.78px;font-size:27px;font-weight:normal;color:#000;text-align:right;">13,9</div>
<div class="t" style="right:345.40px;top:2109.78px;font-size:27px;font-weight:normal;color:#000;text-align:right;">9,4</div>
<div class="t" style="right:237.50px;top:2109.78px;font-size:27px;font-weight:normal;color:#000;text-align:right;">7,9</div>
<div class="r" style="left:291.00px;top:2138.54px;width:828.00px;height:1.00px;background:#d8d8d8;"></div>
<div class="r" style="left:1121.60px;top:2138.54px;width:105.40px;height:1.00px;background:#efefef;"></div>
<div class="r" style="left:1227.00px;top:2138.54px;width:433.00px;height:1.00px;background:#d8d8d8;"></div>
<div class="r" style="left:1660.00px;top:2138.54px;width:107.00px;height:1.00px;background:#cdcdcd;"></div>
<div class="t" style="right:1209.00px;top:2150.05px;font-size:27px;font-weight:normal;color:#000;text-align:right;">hoch</div>
<div class="t" style="right:1100.70px;top:2150.05px;font-size:27px;font-weight:normal;color:#000;text-align:right;">13,4</div>
<div class="t" style="right:992.80px;top:2150.05px;font-size:27px;font-weight:normal;color:#000;text-align:right;">16,2</div>
<div class="t" style="right:884.90px;top:2150.05px;font-size:27px;font-weight:normal;color:#000;text-align:right;">15,1</div>
<div class="t" style="right:777.00px;top:2150.05px;font-size:27px;font-weight:normal;color:#000;text-align:right;">12,4</div>
<div class="t" style="right:669.10px;top:2150.05px;font-size:27px;font-weight:normal;color:#000;text-align:right;">12,6</div>
<div class="t" style="right:561.20px;top:2150.05px;font-size:27px;font-weight:normal;color:#000;text-align:right;">14,5</div>
<div class="t" style="right:453.30px;top:2150.05px;font-size:27px;font-weight:normal;color:#000;text-align:right;">13,3</div>
<div class="t" style="right:345.40px;top:2150.05px;font-size:27px;font-weight:normal;color:#000;text-align:right;">11,8</div>
<div class="t" style="right:237.50px;top:2150.05px;font-size:27px;font-weight:normal;color:#000;text-align:right;">6,3</div>
<div class="r" style="left:291.00px;top:2178.81px;width:828.00px;height:1.00px;background:#d8d8d8;"></div>
<div class="r" style="left:1121.60px;top:2178.81px;width:105.40px;height:1.00px;background:#efefef;"></div>
<div class="r" style="left:1227.00px;top:2178.81px;width:433.00px;height:1.00px;background:#d8d8d8;"></div>
<div class="r" style="left:1660.00px;top:2178.81px;width:107.00px;height:1.00px;background:#cdcdcd;"></div>
<div class="t" style="right:1400.50px;top:2190.32px;font-size:27px;font-weight:normal;color:#000;text-align:right;">männlich</div>
<div class="t" style="right:1209.00px;top:2190.32px;font-size:27px;font-weight:normal;color:#000;text-align:right;">insgesamt</div>
<div class="t" style="right:1100.70px;top:2190.32px;font-size:27px;font-weight:normal;color:#000;text-align:right;">17,4</div>
<div class="t" style="right:992.80px;top:2190.32px;font-size:27px;font-weight:normal;color:#000;text-align:right;">19,3</div>
<div class="t" style="right:884.90px;top:2190.32px;font-size:27px;font-weight:normal;color:#000;text-align:right;">18,2</div>
<div class="t" style="right:777.00px;top:2190.32px;font-size:27px;font-weight:normal;color:#000;text-align:right;">18,1</div>
<div class="t" style="right:669.10px;top:2190.32px;font-size:27px;font-weight:normal;color:#000;text-align:right;">19,9</div>
<div class="t" style="right:561.20px;top:2190.32px;font-size:27px;font-weight:normal;color:#000;text-align:right;">18,6</div>
<div class="t" style="right:453.30px;top:2190.32px;font-size:27px;font-weight:normal;color:#000;text-align:right;">15,0</div>
<div class="t" style="right:345.40px;top:2190.32px;font-size:27px;font-weight:normal;color:#000;text-align:right;">11,3</div>
<div class="t" style="right:237.50px;top:2190.32px;font-size:27px;font-weight:normal;color:#000;text-align:right;">9,9</div>
<div class="r" style="left:291.00px;top:2219.08px;width:828.00px;height:1.00px;background:#d8d8d8;"></div>
<div class="r" style="left:1121.60px;top:2219.08px;width:105.40px;height:1.00px;background:#efefef;"></div>
<div class="r" style="left:1227.00px;top:2219.08px;width:433.00px;height:1.00px;background:#d8d8d8;"></div>
<div class="r" style="left:1660.00px;top:2219.08px;width:107.00px;height:1.00px;background:#cdcdcd;"></div>
<div class="t" style="right:1209.00px;top:2230.59px;font-size:27px;font-weight:normal;color:#000;text-align:right;">niedrig</div>
<div class="t" style="right:1100.70px;top:2230.59px;font-size:27px;font-weight:normal;color:#000;text-align:right;">46,6</div>
<div class="t" style="right:992.80px;top:2230.59px;font-size:27px;font-weight:normal;color:#000;text-align:right;">50,0</div>
<div class="t" style="right:884.90px;top:2230.59px;font-size:27px;font-weight:normal;color:#000;text-align:right;">40,1</div>
<div class="t" style="right:777.00px;top:2230.59px;font-size:27px;font-weight:normal;color:#000;text-align:right;">47,4</div>
<div class="t" style="right:669.10px;top:2230.59px;font-size:27px;font-weight:normal;color:#000;text-align:right;">50,8</div>
<div class="t" style="right:561.20px;top:2230.59px;font-size:27px;font-weight:normal;color:#000;text-align:right;">41,6</div>
<div class="t" style="right:453.30px;top:2230.59px;font-size:27px;font-weight:normal;color:#000;text-align:right;">32,3</div>
<div class="t" style="right:345.40px;top:2230.59px;font-size:27px;font-weight:normal;color:#000;text-align:right;">34,3</div>
<div class="t" style="right:237.50px;top:2230.59px;font-size:27px;font-weight:normal;color:#000;text-align:right;">32,1</div>
<div class="r" style="left:291.00px;top:2259.35px;width:828.00px;height:1.00px;background:#d8d8d8;"></div>
<div class="r" style="left:1121.60px;top:2259.35px;width:105.40px;height:1.00px;background:#efefef;"></div>
<div class="r" style="left:1227.00px;top:2259.35px;width:433.00px;height:1.00px;background:#d8d8d8;"></div>
<div class="r" style="left:1660.00px;top:2259.35px;width:107.00px;height:1.00px;background:#cdcdcd;"></div>
<div class="t" style="right:1209.00px;top:2270.86px;font-size:27px;font-weight:normal;color:#000;text-align:right;">mittel</div>
<div class="t" style="right:1100.70px;top:2270.86px;font-size:27px;font-weight:normal;color:#000;text-align:right;">13,8</div>
<div class="t" style="right:992.80px;top:2270.86px;font-size:27px;font-weight:normal;color:#000;text-align:right;">16,4</div>
<div class="t" style="right:884.90px;top:2270.86px;font-size:27px;font-weight:normal;color:#000;text-align:right;">15,7</div>
<div class="t" style="right:777.00px;top:2270.86px;font-size:27px;font-weight:normal;color:#000;text-align:right;">14,6</div>
<div class="t" style="right:669.10px;top:2270.86px;font-size:27px;font-weight:normal;color:#000;text-align:right;">15,3</div>
<div class="t" style="right:561.20px;top:2270.86px;font-size:27px;font-weight:normal;color:#000;text-align:right;">15,7</div>
<div class="t" style="right:453.30px;top:2270.86px;font-size:27px;font-weight:normal;color:#000;text-align:right;">12,3</div>
<div class="t" style="right:345.40px;top:2270.86px;font-size:27px;font-weight:normal;color:#000;text-align:right;">8,1</div>
<div class="t" style="right:237.50px;top:2270.86px;font-size:27px;font-weight:normal;color:#000;text-align:right;">7,1</div>
<div class="r" style="left:291.00px;top:2299.62px;width:828.00px;height:1.00px;background:#d8d8d8;"></div>
<div class="r" style="left:1121.60px;top:2299.62px;width:105.40px;height:1.00px;background:#efefef;"></div>
<div class="r" style="left:1227.00px;top:2299.62px;width:433.00px;height:1.00px;background:#d8d8d8;"></div>
<div class="r" style="left:1660.00px;top:2299.62px;width:107.00px;height:1.00px;background:#cdcdcd;"></div>
<div class="t" style="right:1209.00px;top:2311.13px;font-size:27px;font-weight:normal;color:#000;text-align:right;">hoch</div>
<div class="t" style="right:1100.70px;top:2311.13px;font-size:27px;font-weight:normal;color:#000;text-align:right;">13,1</div>
<div class="t" style="right:992.80px;top:2311.13px;font-size:27px;font-weight:normal;color:#000;text-align:right;">9,6</div>
<div class="t" style="right:884.90px;top:2311.13px;font-size:27px;font-weight:normal;color:#000;text-align:right;">17,2</div>
<div class="t" style="right:777.00px;top:2311.13px;font-size:27px;font-weight:normal;color:#000;text-align:right;">12,7</div>
<div class="t" style="right:669.10px;top:2311.13px;font-size:27px;font-weight:normal;color:#000;text-align:right;">17,6</div>
<div class="t" style="right:561.20px;top:2311.13px;font-size:27px;font-weight:normal;color:#000;text-align:right;">16,1</div>
<div class="t" style="right:453.30px;top:2311.13px;font-size:27px;font-weight:normal;color:#000;text-align:right;">17,5</div>
<div class="t" style="right:345.40px;top:2311.13px;font-size:27px;font-weight:normal;color:#000;text-align:right;">9,3</div>
<div class="t" style="right:237.50px;top:2311.13px;font-size:27px;font-weight:normal;color:#000;text-align:right;">.</div>
<div class="r" style="left:291.00px;top:2339.89px;width:828.00px;height:1.00px;background:#d8d8d8;"></div>
<div class="r" style="left:1121.60px;top:2339.89px;width:105.40px;height:1.00px;background:#efefef;"></div>
<div class="r" style="left:1227.00px;top:2339.89px;width:433.00px;height:1.00px;background:#d8d8d8;"></div>
<div class="r" style="left:1660.00px;top:2339.89px;width:107.00px;height:1.00px;background:#cdcdcd;"></div>
<div class="t" style="right:1400.50px;top:2351.40px;font-size:27px;font-weight:normal;color:#000;text-align:right;">weiblich</div>
<div class="t" style="right:1209.00px;top:2351.40px;font-size:27px;font-weight:normal;color:#000;text-align:right;">insgesamt</div>
<div class="t" style="right:1100.70px;top:2351.40px;font-size:27px;font-weight:normal;color:#000;text-align:right;">16,4</div>
<div class="t" style="right:992.80px;top:2351.40px;font-size:27px;font-weight:normal;color:#000;text-align:right;">19,1</div>
<div class="t" style="right:884.90px;top:2351.40px;font-size:27px;font-weight:normal;color:#000;text-align:right;">18,5</div>
<div class="t" style="right:777.00px;top:2351.40px;font-size:27px;font-weight:normal;color:#000;text-align:right;">18,0</div>
<div class="t" style="right:669.10px;top:2351.40px;font-size:27px;font-weight:normal;color:#000;text-align:right;">19,0</div>
<div class="t" style="right:561.20px;top:2351.40px;font-size:27px;font-weight:normal;color:#000;text-align:right;">19,4</div>
<div class="t" style="right:453.30px;top:2351.40px;font-size:27px;font-weight:normal;color:#000;text-align:right;">17,1</div>
<div class="t" style="right:345.40px;top:2351.40px;font-size:27px;font-weight:normal;color:#000;text-align:right;">14,4</div>
<div class="t" style="right:237.50px;top:2351.40px;font-size:27px;font-weight:normal;color:#000;text-align:right;">11,4</div>
<div class="r" style="left:291.00px;top:2380.16px;width:828.00px;height:1.00px;background:#d8d8d8;"></div>
<div class="r" style="left:1121.60px;top:2380.16px;width:105.40px;height:1.00px;background:#efefef;"></div>
<div class="r" style="left:1227.00px;top:2380.16px;width:433.00px;height:1.00px;background:#d8d8d8;"></div>
<div class="r" style="left:1660.00px;top:2380.16px;width:107.00px;height:1.00px;background:#cdcdcd;"></div>
<div class="t" style="right:1209.00px;top:2391.67px;font-size:27px;font-weight:normal;color:#000;text-align:right;">niedrig</div>
<div class="t" style="right:1100.70px;top:2391.67px;font-size:27px;font-weight:normal;color:#000;text-align:right;">40,2</div>
<div class="t" style="right:992.80px;top:2391.67px;font-size:27px;font-weight:normal;color:#000;text-align:right;">44,9</div>
<div class="t" style="right:884.90px;top:2391.67px;font-size:27px;font-weight:normal;color:#000;text-align:right;">48,7</div>
<div class="t" style="right:777.00px;top:2391.67px;font-size:27px;font-weight:normal;color:#000;text-align:right;">41,8</div>
<div class="t" style="right:669.10px;top:2391.67px;font-size:27px;font-weight:normal;color:#000;text-align:right;">45,0</div>
<div class="t" style="right:561.20px;top:2391.67px;font-size:27px;font-weight:normal;color:#000;text-align:right;">42,4</div>
<div class="t" style="right:453.30px;top:2391.67px;font-size:27px;font-weight:normal;color:#000;text-align:right;">32,6</div>
<div class="t" style="right:345.40px;top:2391.67px;font-size:27px;font-weight:normal;color:#000;text-align:right;">41,8</div>
<div class="t" style="right:237.50px;top:2391.67px;font-size:27px;font-weight:normal;color:#000;text-align:right;">27,3</div>
<div class="r" style="left:291.00px;top:2420.43px;width:828.00px;height:1.00px;background:#d8d8d8;"></div>
<div class="r" style="left:1121.60px;top:2420.43px;width:105.40px;height:1.00px;background:#efefef;"></div>
<div class="r" style="left:1227.00px;top:2420.43px;width:433.00px;height:1.00px;background:#d8d8d8;"></div>
<div class="r" style="left:1660.00px;top:2420.43px;width:107.00px;height:1.00px;background:#cdcdcd;"></div>
<div class="t" style="right:1209.00px;top:2431.94px;font-size:27px;font-weight:normal;color:#000;text-align:right;">mittel</div>
<div class="t" style="right:1100.70px;top:2431.94px;font-size:27px;font-weight:normal;color:#000;text-align:right;">14,4</div>
<div class="t" style="right:992.80px;top:2431.94px;font-size:27px;font-weight:normal;color:#000;text-align:right;">16,5</div>
<div class="t" style="right:884.90px;top:2431.94px;font-size:27px;font-weight:normal;color:#000;text-align:right;">15,7</div>
<div class="t" style="right:777.00px;top:2431.94px;font-size:27px;font-weight:normal;color:#000;text-align:right;">16,2</div>
<div class="t" style="right:669.10px;top:2431.94px;font-size:27px;font-weight:normal;color:#000;text-align:right;">17,4</div>
<div class="t" style="right:561.20px;top:2431.94px;font-size:27px;font-weight:normal;color:#000;text-align:right;">17,7</div>
<div class="t" style="right:453.30px;top:2431.94px;font-size:27px;font-weight:normal;color:#000;text-align:right;">16,6</div>
<div class="t" style="right:345.40px;top:2431.94px;font-size:27px;font-weight:normal;color:#000;text-align:right;">11,5</div>
<div class="t" style="right:237.50px;top:2431.94px;font-size:27px;font-weight:normal;color:#000;text-align:right;">9,3</div>
<div class="r" style="left:291.00px;top:2460.70px;width:828.00px;height:1.00px;background:#d8d8d8;"></div>
<div class="r" style="left:1121.60px;top:2460.70px;width:105.40px;height:1.00px;background:#efefef;"></div>
<div class="r" style="left:1227.00px;top:2460.70px;width:433.00px;height:1.00px;background:#d8d8d8;"></div>
<div class="r" style="left:1660.00px;top:2460.70px;width:107.00px;height:1.00px;background:#cdcdcd;"></div>
<div class="t" style="right:1209.00px;top:2472.21px;font-size:27px;font-weight:normal;color:#000;text-align:right;">hoch</div>
<div class="t" style="right:1100.70px;top:2472.21px;font-size:27px;font-weight:normal;color:#000;text-align:right;">13,6</div>
<div class="t" style="right:992.80px;top:2472.21px;font-size:27px;font-weight:normal;color:#000;text-align:right;">20,1</div>
<div class="t" style="right:884.90px;top:2472.21px;font-size:27px;font-weight:normal;color:#000;text-align:right;">14,1</div>
<div class="t" style="right:777.00px;top:2472.21px;font-size:27px;font-weight:normal;color:#000;text-align:right;">12,2</div>
<div class="t" style="right:669.10px;top:2472.21px;font-size:27px;font-weight:normal;color:#000;text-align:right;">10,6</div>
<div class="t" style="right:561.20px;top:2472.21px;font-size:27px;font-weight:normal;color:#000;text-align:right;">13,7</div>
<div class="t" style="right:453.30px;top:2472.21px;font-size:27px;font-weight:normal;color:#000;text-align:right;">11,5</div>
<div class="t" style="right:345.40px;top:2472.21px;font-size:27px;font-weight:normal;color:#000;text-align:right;">12,8</div>
<div class="t" style="right:237.50px;top:2472.21px;font-size:27px;font-weight:normal;color:#000;text-align:right;">8,1</div>
<div class="r" style="left:289.00px;top:2502.20px;width:1478.00px;height:1.60px;background:#bababa;"></div>
<div class="r" style="left:1119.50px;top:1999.50px;width:2.00px;height:502.70px;background:#000;"></div>
<div class="t" style="left:296.00px;top:2530.64px;font-size:27px;font-weight:normal;color:#000;">Anmerkungen: Daten beziehen sich auf Zensus 2011 ab 2011.</div>
<div class="t" style="left:295.00px;top:2587.14px;font-size:27px;font-weight:normal;color:#000;">Quelle: Eurostat.</div>
<div class="r" style="left:290.50px;top:2634.50px;width:1486.50px;height:2.00px;background:#bdbdbd;"></div>
</body></html>
